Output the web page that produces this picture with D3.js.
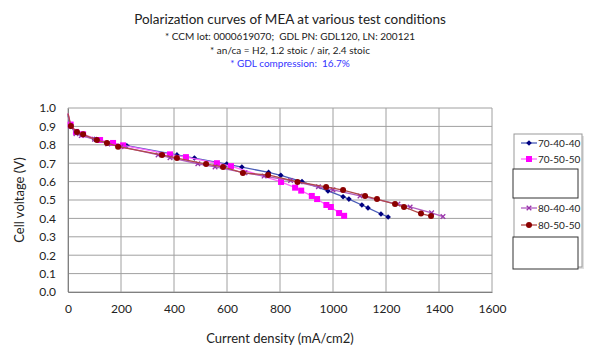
<!DOCTYPE html>
<html><head><meta charset="utf-8">
<script src="https://cdn.jsdelivr.net/npm/d3@7"></script>
<style>body{margin:0;background:#fff}svg{font-family:Lato,"Open Sans",sans-serif}text{white-space:pre}</style>
</head><body><svg id="c" width="596" height="353"></svg>
<script>
const titleLines = ["Polarization curves of MEA at various test conditions"];
const subLines = ["* CCM lot: 0000619070;  GDL PN: GDL120, LN: 200121", "* an/ca = H2, 1.2 stoic / air, 2.4 stoic", "* GDL compression:  16.7%"];
const xTicks = [0,200,400,600,800,1000,1200,1400,1600];
const yTicks = [0,0.1,0.2,0.3,0.4,0.5,0.6,0.7,0.8,0.9,1.0];
const seriesNames = ["70-40-40","70-50-50","80-40-40","80-50-50"];
const s7040 = [[0,0.96],[10,0.9],[30,0.87],[50,0.857],[100,0.83],[150,0.81],[222,0.795],[411,0.745],[477,0.728],[599,0.695],[656,0.679],[757,0.65],[803,0.634],[883,0.6],[981,0.549],[1038,0.518],[1060,0.505],[1109,0.473],[1132,0.457],[1181,0.424],[1208,0.408]];
const s7050 = [[0,0.97],[10,0.91],[30,0.87],[57,0.857],[121,0.826],[170,0.81],[208,0.797],[385,0.748],[445,0.733],[562,0.7],[615,0.684],[804,0.598],[857,0.567],[880,0.551],[920,0.522],[940,0.505],[975,0.473],[992,0.462],[1023,0.429],[1042,0.414]];
const s8040 = [[0,0.97],[10,0.9],[30,0.86],[50,0.85],[100,0.83],[150,0.805],[200,0.79],[340,0.745],[385,0.73],[490,0.697],[555,0.68],[668,0.648],[740,0.63],[840,0.606],[945,0.572],[1000,0.555],[1102,0.522],[1245,0.478],[1291,0.462],[1372,0.43],[1415,0.41]];
const s8050 = [[0,0.97],[11,0.902],[34,0.87],[57,0.857],[109,0.826],[147,0.81],[189,0.79],[355,0.745],[411,0.728],[521,0.695],[585,0.68],[660,0.647],[755,0.636],[866,0.598],[974,0.571],[1038,0.554],[1121,0.522],[1166,0.505],[1234,0.478],[1268,0.462],[1332,0.426],[1370,0.413]];

const svg = d3.select("#c");
const x = d3.scaleLinear().domain([0,1600]).range([68,492]);
const y = d3.scaleLinear().domain([0,1]).range([292,108]);

svg.append("text").attr("x",290).attr("y",24).attr("text-anchor","middle").attr("font-size",13.5).attr("fill","#222").text(titleLines[0]);
const subColors = ["#222","#222","#3333ff"];
subLines.forEach((t,i)=>svg.append("text").attr("x",290).attr("y",40+i*13.5).attr("text-anchor","middle").attr("font-size",10).attr("fill",subColors[i]).text(t));

const g = svg.append("g");
g.selectAll("line.h").data(yTicks).join("line").attr("x1",x(0)).attr("x2",x(1600)).attr("y1",d=>y(d)).attr("y2",d=>y(d)).attr("stroke","#a0a0a0").attr("stroke-width",1);
g.selectAll("line.v").data(xTicks).join("line").attr("y1",y(0)).attr("y2",y(1)).attr("x1",d=>x(d)).attr("x2",d=>x(d)).attr("stroke","#a0a0a0").attr("stroke-width",1);

const xa = svg.append("g").attr("transform",`translate(0,${y(0)})`).call(d3.axisBottom(x).tickValues(xTicks).tickSize(0).tickPadding(12).tickFormat(d3.format("d")));
const ya = svg.append("g").attr("transform",`translate(${x(0)},0)`).call(d3.axisLeft(y).tickValues(yTicks).tickSize(0).tickPadding(12).tickFormat(d3.format(".1f")));
[xa,ya].forEach(a=>{a.select(".domain").attr("stroke","#808080");a.selectAll("text").attr("font-size",12).attr("fill","#222").attr("font-family","Lato,sans-serif");});

svg.append("text").attr("x",280).attr("y",343).attr("text-anchor","middle").attr("font-size",13).attr("fill","#222").text("Current density (mA/cm2)");
svg.append("text").attr("transform","translate(24,200) rotate(-90)").attr("text-anchor","middle").attr("font-size",13).attr("fill","#222").text("Cell voltage (V)");

const styles = [
 {data:s7040, line:"#4a5cb8", mark:"#000080", shape:"diamond"},
 {data:s7050, line:"#ff66ff", mark:"#ff00ff", shape:"square"},
 {data:s8040, line:"#b05cc0", mark:"#9933aa", shape:"x"},
 {data:s8050, line:"#b04848", mark:"#8b0000", shape:"circle"}
];
const line = d3.line().x(d=>x(d[0])).y(d=>y(d[1]));
function drawMark(sel, st, px, py){
  if(st.shape==="diamond") sel.append("path").attr("d",`M${px},${py-2.8}L${px+2.8},${py}L${px},${py+2.8}L${px-2.8},${py}Z`).attr("fill",st.mark);
  else if(st.shape==="square") sel.append("rect").attr("x",px-3).attr("y",py-3).attr("width",6).attr("height",6).attr("fill",st.mark);
  else if(st.shape==="x") sel.append("path").attr("d",`M${px-2.3},${py-2.3}L${px+2.3},${py+2.3}M${px-2.3},${py+2.3}L${px+2.3},${py-2.3}`).attr("stroke",st.mark).attr("stroke-width",1.3);
  else sel.append("circle").attr("cx",px).attr("cy",py).attr("r",3).attr("fill",st.mark);
}
styles.forEach(st=>{
  const sg = svg.append("g");
  sg.append("path").datum(st.data).attr("d",line).attr("fill","none").attr("stroke",st.line).attr("stroke-width",1.3);
  st.data.filter(d=>d[0]>0).forEach(d=>drawMark(sg,st,x(d[0]),y(d[1])));
});

const lg = svg.append("g");
lg.append("rect").attr("x",516).attr("y",136).attr("width",68).attr("height",133).attr("fill","#e0e0e0");
lg.append("rect").attr("x",514).attr("y",134).attr("width",68).attr("height",133).attr("fill","#fff").attr("stroke","#999");
lg.append("rect").attr("x",513).attr("y",169).attr("width",65).attr("height",29).attr("fill","#fff").attr("stroke","#333");
lg.append("rect").attr("x",513).attr("y",237).attr("width",65).attr("height",32).attr("fill","#fff").attr("stroke","#333");
const ly = [143,159,208,225];
styles.forEach((st,i)=>{
  lg.append("line").attr("x1",521).attr("x2",537).attr("y1",ly[i]).attr("y2",ly[i]).attr("stroke",st.line).attr("stroke-width",1.3);
  drawMark(lg,st,529,ly[i]);
  lg.append("text").attr("x",538).attr("y",ly[i]+4).attr("font-size",10).attr("fill","#222").text(seriesNames[i]);
});
</script></body></html>
